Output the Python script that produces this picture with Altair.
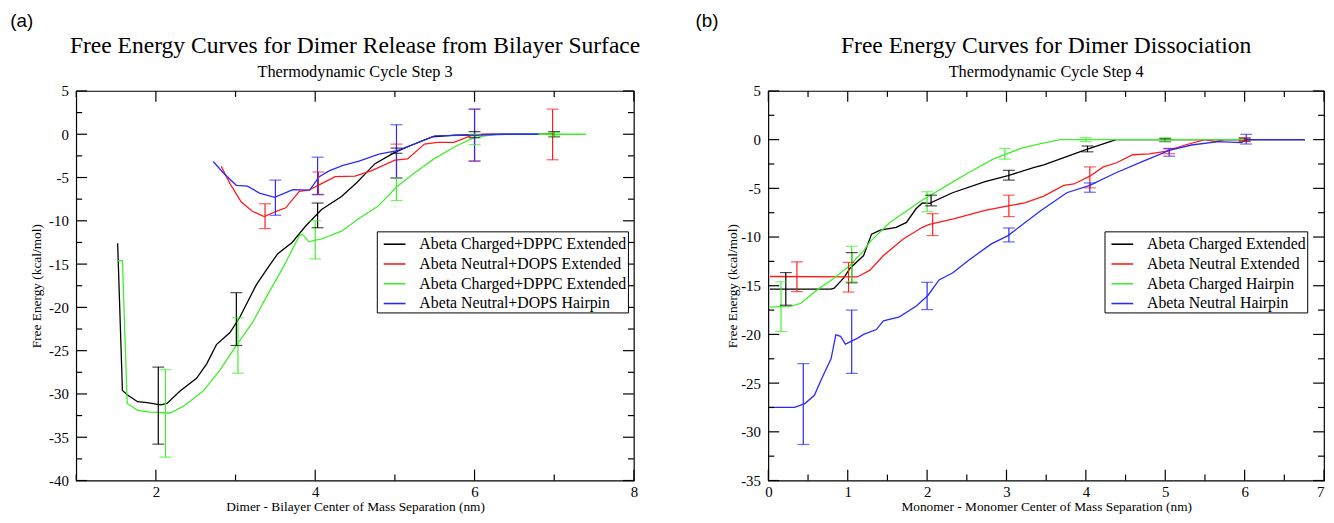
import altair as alt
import pandas as pd

# ---------------- Panel (a) data ----------------
A_SERIES = ["Abeta Charged+DPPC Extended", "Abeta Neutral+DOPS Extended",
            "Abeta Charged+DPPC Extended ", "Abeta Neutral+DOPS Hairpin"]
COLORS = ["#000000", "#ff1a1a", "#3ef02a", "#2a2aff"]

A_BLACK_X = [1.52, 1.58, 1.64, 1.77, 1.89, 2.06, 2.14, 2.30, 2.51, 2.64, 2.76, 2.93, 3.05, 3.26, 3.40,
             3.53, 3.71, 3.88, 4.08, 4.33, 4.52, 4.75, 5.0, 5.2, 5.47, 5.75, 5.96, 6.3, 6.7, 7.0]
A_BLACK_Y = [-12.6, -29.6, -30.1, -30.9, -31.0, -31.25, -31.1, -29.7, -28.2, -26.5, -24.3, -22.9, -21.2, -17.4, -15.5,
             -13.8, -12.5, -10.6, -8.7, -7.2, -5.6, -3.4, -2.1, -1.3, -0.3, -0.1, -0.08, 0.0, 0.0, 0.0]
A_RED_X = [2.82, 2.93, 3.07, 3.21, 3.36, 3.51, 3.63, 3.80, 3.92, 4.08, 4.25, 4.50, 4.71, 5.0, 5.16,
           5.37, 5.53, 5.74, 5.95, 6.1, 6.36]
A_RED_Y = [-3.7, -5.7, -7.8, -8.9, -9.5, -8.9, -8.5, -6.6, -6.45, -5.7, -4.9, -4.85, -4.2, -3.0, -2.85,
           -1.14, -0.95, -0.95, -0.2, 0.0, 0.0]
A_GREEN_X = [1.52, 1.58, 1.64, 1.77, 1.93, 2.18, 2.35, 2.59, 2.80, 3.01, 3.21, 3.38, 3.59, 3.80, 3.84,
             3.92, 4.08, 4.33, 4.54, 4.79, 5.02, 5.24, 5.49, 5.74, 5.99, 6.28, 6.8, 7.4]
A_GREEN_Y = [-14.6, -14.6, -31.1, -31.9, -32.1, -32.2, -31.4, -29.7, -27.3, -24.4, -21.8, -18.9, -15.5, -11.75, -11.55,
             -12.4, -12.1, -11.2, -9.8, -8.3, -6.1, -4.5, -2.85, -1.5, -0.4, 0.0, 0.0, 0.0]
A_BLUE_X = [2.72, 2.85, 3.01, 3.15, 3.30, 3.49, 3.72, 3.93, 4.05, 4.18, 4.35, 4.55, 4.80, 5.03, 5.25,
            5.50, 6.0, 6.4, 6.8]
A_BLUE_Y = [-3.15, -4.5, -5.9, -6.0, -6.8, -7.3, -6.4, -6.45, -4.9, -4.2, -3.6, -3.1, -2.3, -1.9, -1.1,
            -0.2, -0.1, 0.0, 0.0]

A_EB_BLACK_X = [2.03, 3.01, 4.03, 5.02, 6.0, 7.0]
A_EB_BLACK_LO = [-35.8, -24.4, -10.8, -2.2, -0.4, -0.3]
A_EB_BLACK_HI = [-26.9, -18.3, -7.95, -1.6, 0.3, 0.3]
A_EB_RED_X = [3.37, 4.04, 5.02, 6.0, 6.98]
A_EB_RED_LO = [-10.9, -7.0, -5.05, -3.1, -2.95]
A_EB_RED_HI = [-8.03, -4.36, -1.14, 2.9, 2.9]
A_EB_GREEN_X = [2.12, 3.03, 4.0, 5.02, 6.0, 7.0]
A_EB_GREEN_LO = [-37.3, -27.6, -14.4, -7.66, -1.2, -0.2]
A_EB_GREEN_HI = [-27.2, -21.2, -10.0, -5.05, 0.0, 0.2]
A_EB_BLUE_X = [3.50, 4.03, 5.02, 6.0]
A_EB_BLUE_LO = [-9.36, -6.95, -5.05, -3.1]
A_EB_BLUE_HI = [-5.3, -2.65, 1.1, 2.9]

A_X_MAJOR = [2, 4, 6, 8]
A_X_MINOR = [1, 3, 5, 7]
A_Y_MAJOR = [-40, -35, -30, -25, -20, -15, -10, -5, 0, 5]
A_Y_MINOR = [-37.5, -32.5, -27.5, -22.5, -17.5, -12.5, -7.5, -2.5, 2.5]

# ---------------- Panel (b) data ----------------
B_SERIES = ["Abeta Charged Extended", "Abeta Neutral Extended",
            "Abeta Charged Hairpin", "Abeta Neutral Hairpin"]

B_BLACK_X = [0.02, 0.79, 0.83, 0.95, 1.03, 1.2, 1.30, 1.41, 1.61, 1.74, 1.86, 1.94, 2.03, 2.32, 2.73,
             3.02, 3.35, 3.47, 4.01, 4.38, 5.0, 6.0, 6.76]
B_BLACK_Y = [-15.35, -15.35, -15.25, -14.2, -13.2, -11.9, -9.7, -9.3, -9.0, -8.5, -7.1, -6.5, -6.55, -5.45, -4.3,
             -3.7, -2.85, -2.6, -1.0, 0.0, 0.0, 0.0, 0.0]
B_RED_X = [0.02, 1.12, 1.28, 1.45, 1.70, 1.94, 2.03, 2.32, 2.73, 3.02, 3.23, 3.47, 3.72, 3.85, 4.05,
           4.22, 4.38, 4.59, 4.80, 5.0, 5.25, 5.5, 5.63, 5.75, 6.2, 6.76]
B_RED_Y = [-14.05, -14.1, -13.4, -11.9, -10.2, -9.0, -8.7, -8.15, -7.25, -6.8, -6.5, -5.8, -4.7, -4.55, -3.75,
           -2.8, -2.4, -1.55, -1.45, -1.2, -0.55, 0.0, -0.2, 0.0, 0.0, 0.0]
B_GREEN_X = [0.02, 0.29, 0.41, 0.62, 0.83, 1.03, 1.2, 1.28, 1.53, 1.78, 1.94, 2.23, 2.52, 2.83, 3.02,
             3.18, 3.43, 3.68, 4.5, 5.5, 6.76]
B_GREEN_Y = [-17.2, -17.1, -16.8, -15.4, -14.2, -12.9, -11.4, -10.5, -8.5, -7.1, -6.2, -4.8, -3.4, -2.0, -1.4,
             -0.9, -0.4, 0.0, 0.0, 0.0, 0.0]
B_BLUE_X = [0.02, 0.33, 0.46, 0.58, 0.68, 0.79, 0.85, 0.91, 0.97, 1.12, 1.20, 1.36, 1.45, 1.65, 1.86,
            2.01, 2.15, 2.32, 2.52, 2.81, 3.02, 3.43, 3.76, 4.05, 4.38, 4.71, 5.05, 5.33, 5.67, 5.96,
            6.02, 6.4, 6.76]
B_BLUE_Y = [-27.5, -27.5, -27.1, -26.25, -24.4, -22.5, -20.05, -20.2, -21.0, -20.4, -20.0, -19.5, -18.6, -18.2, -17.1,
            -16.0, -14.4, -13.7, -12.4, -10.7, -9.85, -7.3, -5.45, -4.7, -3.4, -2.25, -1.1, -0.55, -0.2, -0.3,
            0.0, 0.0, 0.0]

B_EB_BLACK_X = [0.22, 1.05, 2.05, 3.03, 4.02, 5.0, 6.0]
B_EB_BLACK_LO = [-17.0, -14.7, -6.8, -4.15, -1.25, -0.2, -0.15]
B_EB_BLACK_HI = [-13.65, -11.6, -5.7, -3.15, -0.65, 0.1, 0.15]
B_EB_RED_X = [0.36, 1.01, 2.07, 3.03, 4.05, 5.05, 6.0]
B_EB_RED_LO = [-15.6, -15.65, -9.85, -7.9, -4.95, -1.45, -0.2]
B_EB_RED_HI = [-12.55, -12.6, -7.6, -5.7, -2.8, -0.95, 0.2]
B_EB_GREEN_X = [0.16, 1.05, 2.0, 2.98, 4.0, 5.0]
B_EB_GREEN_LO = [-19.7, -14.6, -7.4, -2.0, -0.2, -0.2]
B_EB_GREEN_HI = [-14.6, -10.95, -5.35, -0.9, 0.2, 0.2]
B_EB_BLUE_X = [0.44, 1.05, 2.0, 3.03, 4.05, 5.05, 6.02]
B_EB_BLUE_LO = [-31.3, -24.0, -17.45, -10.5, -5.4, -1.7, -0.45]
B_EB_BLUE_HI = [-23.0, -17.5, -14.65, -9.07, -4.45, -0.9, 0.55]

B_X_MAJOR = [0, 1, 2, 3, 4, 5, 6, 7]
B_X_MINOR = [0.5, 1.5, 2.5, 3.5, 4.5, 5.5, 6.5]
B_Y_MAJOR = [-35, -30, -25, -20, -15, -10, -5, 0, 5]
B_Y_MINOR = [-32.5, -27.5, -22.5, -17.5, -12.5, -7.5, -2.5, 2.5]

TITLES = ["Free Energy Curves for Dimer Release from Bilayer Surface",
          "Free Energy Curves for Dimer Dissociation"]
SUBTITLES = ["Thermodynamic Cycle Step 3", "Thermodynamic Cycle Step 4"]
X_TITLES = ["Dimer - Bilayer Center of Mass Separation (nm)",
            "Monomer - Monomer Center of Mass Separation (nm)"]
Y_TITLE = "Free Energy (kcal/mol)"
TAGS = ["(a)", "(b)"]

H = 394
SERIF = "Liberation Serif"
LABEL_EXPR = "'' + datum.value"


def build_panel(series, lines, errs, xdom, ydom, xmaj, xmin, ymaj, ymin,
                xtitle, title, subtitle, tag, tagx, legx, legy, W, flush_last, ytp):
    xs = alt.Scale(domain=xdom, nice=False, zero=False)
    ys = alt.Scale(domain=ydom, nice=False, zero=False)
    cs = alt.Scale(domain=series, range=COLORS)

    rows = []
    for s, (xv, yv) in zip(series, lines):
        for i, (a, b) in enumerate(zip(xv, yv)):
            rows.append({"x": a, "y": b, "s": s, "i": i})
    ldf = pd.DataFrame(rows)
    erows = []
    for s, (xv, lo, hi) in zip(series, errs):
        for a, l, h in zip(xv, lo, hi):
            erows.append({"x": a, "lo": l, "hi": h, "s": s})
    edf = pd.DataFrame(erows)

    if flush_last:
        label_align = {"condition": {"test": f"datum.value >= {xdom[1]}", "value": "right"},
                       "value": "center"}
    else:
        label_align = "center"

    layers = []
    line = alt.Chart(ldf).mark_line(strokeWidth=1.3).encode(
        x=alt.X("x:Q", scale=xs, title=xtitle,
                axis=alt.Axis(values=xmaj, ticks=False, domain=False, grid=False,
                              labelFlush=False, labelOverlap=False, labelAlign=label_align,
                              labelPadding=4, titlePadding=0, labelExpr=LABEL_EXPR)),
        y=alt.Y("y:Q", scale=ys, title=Y_TITLE,
                axis=alt.Axis(values=ymaj, ticks=False, domain=False, grid=False,
                              labelFlush=False, labelOverlap=False,
                              labelPadding=8, titlePadding=ytp, labelExpr=LABEL_EXPR)),
        color=alt.Color("s:N", scale=cs, title=None,
                        legend=alt.Legend(orient="none", legendX=legx, legendY=legy,
                                          symbolType="stroke", symbolSize=484,
                                          symbolStrokeWidth=1.6, symbolOffset=5,
                                          labelFont=SERIF,
                                          labelFontSize=16, labelColor="black",
                                          strokeColor="black", fillColor="white",
                                          padding=1, rowPadding={"expr": "-4.6"}, labelOffset=13,
                                          labelLimit=400)),
        detail="s:N",
        order="i:Q",
    )
    layers.append(line)

    # inward ticks on all four sides (major long, minor short)
    for vals, ln in ((xmaj, 11), (xmin, 6)):
        tdf = pd.DataFrame({"v": vals})
        for y0, y1 in ((H, H - ln), (0, ln)):
            layers.append(alt.Chart(tdf).mark_rule(color="black", strokeWidth=1.2).encode(
                x=alt.X("v:Q", scale=xs, title=xtitle),
                y=alt.value(y0), y2=alt.value(y1)))
    for vals, ln in ((ymaj, 11), (ymin, 6)):
        tdf = pd.DataFrame({"v": vals})
        for x0, x1 in ((0, ln), (W, W - ln)):
            layers.append(alt.Chart(tdf).mark_rule(color="black", strokeWidth=1.2).encode(
                y=alt.Y("v:Q", scale=ys, title=Y_TITLE),
                x=alt.value(x0), x2=alt.value(x1)))

    rule = alt.Chart(edf).mark_rule(strokeWidth=1.2).encode(
        x=alt.X("x:Q", scale=xs, title=xtitle),
        y=alt.Y("lo:Q", scale=ys, title=Y_TITLE),
        y2="hi:Q",
        color=alt.Color("s:N", scale=cs, legend=None))
    cap_lo = alt.Chart(edf).mark_tick(orient="horizontal", size=12, thickness=1.2).encode(
        x=alt.X("x:Q", scale=xs, title=xtitle),
        y=alt.Y("lo:Q", scale=ys, title=Y_TITLE),
        color=alt.Color("s:N", scale=cs, legend=None))
    cap_hi = alt.Chart(edf).mark_tick(orient="horizontal", size=12, thickness=1.2).encode(
        x=alt.X("x:Q", scale=xs, title=xtitle),
        y=alt.Y("hi:Q", scale=ys, title=Y_TITLE),
        color=alt.Color("s:N", scale=cs, legend=None))
    layers += [rule, cap_lo, cap_hi]

    tag_layer = alt.Chart(pd.DataFrame({"t": [tag]})).mark_text(
        font="Liberation Sans", fontSize=19, align="center", baseline="middle", color="black"
    ).encode(x=alt.value(tagx), y=alt.value(-70.5), text="t:N")
    title_layer = alt.Chart(pd.DataFrame({"t": [title]})).mark_text(
        font=SERIF, fontSize=23.8, align="center", baseline="middle", color="black"
    ).encode(x=alt.value(W / 2), y=alt.value(-45), text="t:N")
    sub_layer = alt.Chart(pd.DataFrame({"t": [subtitle]})).mark_text(
        font=SERIF, fontSize=16.5, align="center", baseline="middle", color="black"
    ).encode(x=alt.value(W / 2), y=alt.value(-19), text="t:N")
    layers += [tag_layer, title_layer, sub_layer]

    return alt.layer(*layers).properties(width=W, height=H)


left = build_panel(
    A_SERIES,
    [(A_BLACK_X, A_BLACK_Y), (A_RED_X, A_RED_Y), (A_GREEN_X, A_GREEN_Y), (A_BLUE_X, A_BLUE_Y)],
    [(A_EB_BLACK_X, A_EB_BLACK_LO, A_EB_BLACK_HI), (A_EB_RED_X, A_EB_RED_LO, A_EB_RED_HI),
     (A_EB_GREEN_X, A_EB_GREEN_LO, A_EB_GREEN_HI), (A_EB_BLUE_X, A_EB_BLUE_LO, A_EB_BLUE_HI)],
    [1, 8], [-40, 5], A_X_MAJOR, A_X_MINOR, A_Y_MAJOR, A_Y_MINOR,
    X_TITLES[0], TITLES[0], SUBTITLES[0], TAGS[0], -55, 304, 142, 564, False, 5)

right = build_panel(
    B_SERIES,
    [(B_BLACK_X, B_BLACK_Y), (B_RED_X, B_RED_Y), (B_GREEN_X, B_GREEN_Y), (B_BLUE_X, B_BLUE_Y)],
    [(B_EB_BLACK_X, B_EB_BLACK_LO, B_EB_BLACK_HI), (B_EB_RED_X, B_EB_RED_LO, B_EB_RED_HI),
     (B_EB_GREEN_X, B_EB_GREEN_LO, B_EB_GREEN_HI), (B_EB_BLUE_X, B_EB_BLUE_LO, B_EB_BLUE_HI)],
    [0, 7], [-35, 5], B_X_MAJOR, B_X_MINOR, B_Y_MAJOR, B_Y_MINOR,
    X_TITLES[1], TITLES[1], SUBTITLES[1], TAGS[1], -62, 340, 142, 562, True, 1)

chart = alt.hconcat(left, right, spacing=53).resolve_scale(
    x="independent", y="independent", color="independent"
).properties(
    padding={"left": 1, "top": 0, "right": 0, "bottom": 0}
).configure_axis(
    labelFont=SERIF, labelFontSize=15, labelColor="black",
    titleFont=SERIF, titleFontSize=13.5, titleFontWeight="normal", titleColor="black"
).configure_view(stroke="black", strokeWidth=1.2)

chart.save("out.html", embed_options={"renderer": "svg", "actions": False})
